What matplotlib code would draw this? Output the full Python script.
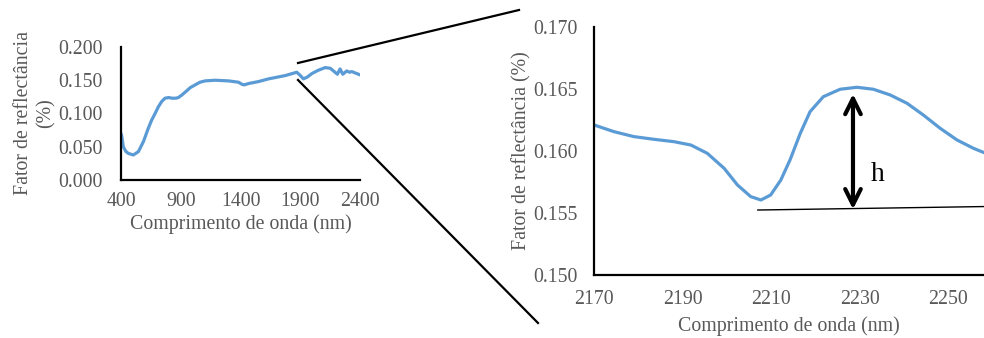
"""Espectro de reflectância com detalhe da banda a 2210 nm
"""
import numpy as np
import matplotlib
matplotlib.use('Agg')
import matplotlib.pyplot as plt
from matplotlib.lines import Line2D

# espectro completo
wl_full = [400, 406, 419, 440, 461, 503, 545, 587, 628, 656, 685, 712, 740,
           768, 800, 824, 860, 880, 910, 936, 980, 1020, 1060, 1103, 1187,
           1299, 1383, 1410, 1430, 1466, 1550, 1633, 1773, 1870, 1900, 1926,
           1960, 1996, 2050, 2107, 2150, 2190, 2210, 2232, 2255, 2288, 2310,
           2330, 2372, 2400]
refl_full = [0.070, 0.066, 0.050, 0.043, 0.040, 0.0376, 0.0426, 0.0576,
             0.0777, 0.090, 0.100, 0.110, 0.118, 0.123, 0.124, 0.123, 0.123,
             0.124, 0.128, 0.132, 0.139, 0.143, 0.147, 0.149, 0.150, 0.149,
             0.147, 0.144, 0.143, 0.145, 0.148, 0.152, 0.157, 0.162, 0.157,
             0.152, 0.155, 0.160, 0.165, 0.169, 0.168, 0.162, 0.159, 0.167,
             0.159, 0.164, 0.162, 0.163, 0.160, 0.158]

# detalhe 2170-2258 nm
wl_zoom = [2170, 2174.5, 2179, 2183.6, 2188.1, 2191.9, 2195.6, 2199.4,
           2202.4, 2205.4, 2207.7, 2209.9, 2212.2, 2214.3, 2216.6, 2218.8,
           2221.8, 2225.6, 2229.4, 2233.1, 2236.9, 2240.7, 2244.4, 2248.2,
           2252.0, 2255.7, 2258.1]
refl_zoom = [0.16210, 0.16156, 0.16116, 0.16094, 0.16075, 0.16048, 0.15981,
             0.15860, 0.15726, 0.15632, 0.15605, 0.15645, 0.15766, 0.15930,
             0.16143, 0.16317, 0.16438, 0.16498, 0.16514, 0.16498, 0.16452,
             0.16385, 0.16290, 0.16183, 0.16089, 0.16022, 0.15987]

# linha de base e altura h
base_x = [2207, 2258.1]
base_y = [0.15524, 0.15552]
h_x = 2228.5
h_top, h_bot = 0.1646, 0.1553

blue = '#5B9BD5'
grey = '#595959'
plt.rcParams['font.family'] = ['Liberation Serif', 'DejaVu Serif']
fs = 14.3

fig = plt.figure(figsize=(9.84, 3.38), dpi=100)


def style(ax):
    for s in ['top', 'right']:
        ax.spines[s].set_visible(False)
    for s in ['left', 'bottom']:
        ax.spines[s].set_linewidth(1.6)
        ax.spines[s].set_color('black')
    ax.tick_params(length=0, labelsize=fs, labelcolor=grey)


# gráfico pequeno
ax1 = fig.add_axes([0.123, 0.4675, 0.243, 0.3935])
ax1.plot(wl_full, refl_full, color=blue, lw=2.3, solid_capstyle='round',
         solid_joinstyle='round')
ax1.set_xlim(400, 2400)
ax1.set_ylim(0, 0.2)
ax1.set_xticks([400, 900, 1400, 1900, 2400])
ax1.set_yticks([0, 0.05, 0.1, 0.15, 0.2])
ax1.set_yticklabels(['%.3f' % v for v in [0, 0.05, 0.1, 0.15, 0.2]])
style(ax1)
ax1.tick_params(axis='y', pad=13)
ax1.tick_params(axis='x', pad=9)
ax1.set_xlabel('Comprimento de onda (nm)', fontsize=fs, color=grey, labelpad=2)
ax1.set_ylabel('Fator de reflectância\n(%)', fontsize=fs, color=grey,
               linespacing=1.25, labelpad=2)
ax1.patch.set_alpha(0)

# gráfico ampliado
ax2 = fig.add_axes([0.6037, 0.1864, 0.3963, 0.7337])
ax2.plot(wl_zoom, refl_zoom, color=blue, lw=2.3, solid_capstyle='round',
         solid_joinstyle='round')
ax2.plot(base_x, base_y, color='black', lw=1.0)
ax2.annotate('', xy=(h_x, h_top), xytext=(h_x, h_bot),
             arrowprops=dict(arrowstyle='<->', lw=3.0, color='black',
                             mutation_scale=28, shrinkA=0, shrinkB=0))
ax2.text(2234, 0.1581, 'h', fontsize=20, color='black', ha='center', va='center')
ax2.set_xlim(2170, 2258.1)
ax2.set_ylim(0.150, 0.170)
ax2.set_xticks([2170, 2190, 2210, 2230, 2250])
ax2.set_yticks([0.150, 0.155, 0.160, 0.165, 0.170])
ax2.set_yticklabels(['%.3f' % v for v in [0.150, 0.155, 0.160, 0.165, 0.170]])
style(ax2)
ax2.tick_params(axis='y', pad=12)
ax2.tick_params(axis='x', pad=11)
ax2.set_xlabel('Comprimento de onda (nm)', fontsize=fs, color=grey, labelpad=5)
ax2.set_ylabel('Fator de reflectância (%)', fontsize=fs, color=grey, labelpad=1)

# linhas de ligação entre os dois gráficos
W, H = 984.0, 338.0
for (x0, y0), (x1, y1) in [((298, 63), (519, 10)), ((298, 80), (538, 323))]:
    fig.add_artist(Line2D([x0 / W, x1 / W], [1 - y0 / H, 1 - y1 / H],
                          transform=fig.transFigure, color='black', lw=1.6))

fig.savefig('out.png', dpi=100)
